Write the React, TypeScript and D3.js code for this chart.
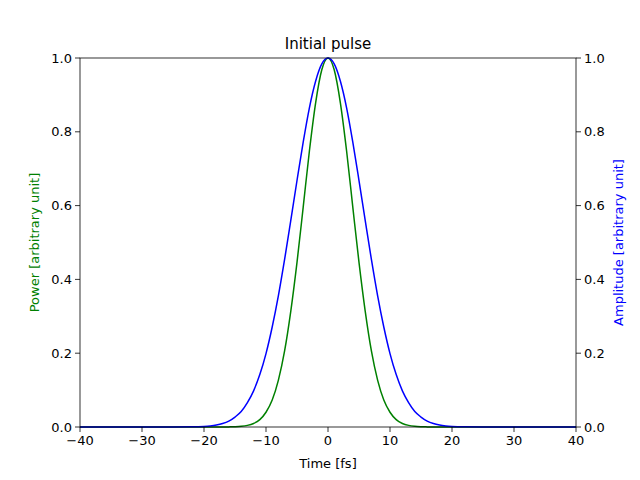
import React from 'react';
import * as d3 from 'd3';

// half-profiles, t = 0..20 fs (symmetric pulse), then tails
const halfTimes = [0, 1, 2, 3, 4, 5, 6, 7, 8, 9, 10, 11, 12, 13, 14, 15, 16, 17, 18, 19, 20, 22, 25, 30, 40];
const halfAmplitude = [1, 0.984, 0.937, 0.865, 0.772, 0.668, 0.56, 0.454, 0.356, 0.271, 0.199, 0.142, 0.098, 0.066, 0.042, 0.027, 0.016, 0.0094, 0.0054, 0.003, 0.0016, 0.0004, 0, 0, 0];
const halfPower = [1, 0.968, 0.878, 0.748, 0.596, 0.446, 0.314, 0.206, 0.127, 0.073, 0.04, 0.02, 0.0096, 0.0044, 0.0018, 0.0007, 0.0003, 0.0001, 0, 0, 0, 0, 0, 0, 0];

const xTicks = [-40, -30, -20, -10, 0, 10, 20, 30, 40];
const yTicks = [0, 0.2, 0.4, 0.6, 0.8, 1.0];

const mirror = (t: number[], v: number[]) => {
  const pts: [number, number][] = [];
  for (let i = t.length - 1; i > 0; i--) pts.push([-t[i], v[i]]);
  for (let i = 0; i < t.length; i++) pts.push([t[i], v[i]]);
  return pts;
};

const W = 640, H = 480;
const m = { left: 80, right: 576, top: 58, bottom: 427 };
const font = 'DejaVu Sans, sans-serif';

export default function App() {
  const x = d3.scaleLinear().domain([-40, 40]).range([m.left, m.right]);
  const y = d3.scaleLinear().domain([0, 1]).range([m.bottom, m.top]);
  const line = d3.line<[number, number]>().x(d => x(d[0])).y(d => y(d[1])).curve(d3.curveMonotoneX);

  return (
    <svg width={W} height={H} style={{ position: 'fixed', left: 0, top: 0, background: '#fff' }} fontFamily={font}>
      <path d={line(mirror(halfTimes, halfPower)) ?? ''} fill="none" stroke="green" strokeWidth={1.5} />
      <path d={line(mirror(halfTimes, halfAmplitude)) ?? ''} fill="none" stroke="blue" strokeWidth={1.5} />
      <rect x={m.left} y={m.top} width={m.right - m.left} height={m.bottom - m.top} fill="none" stroke="#000" strokeWidth={0.8} />
      {xTicks.map(t => (
        <g key={t}>
          <line x1={x(t)} x2={x(t)} y1={m.bottom} y2={m.bottom + 5} stroke="#000" strokeWidth={0.8} />
          <text x={x(t)} y={m.bottom + 18} fontSize={13} textAnchor="middle">{t < 0 ? '\u2212' + -t : t}</text>
        </g>
      ))}
      {yTicks.map(t => (
        <g key={t}>
          <line x1={m.left - 5} x2={m.left} y1={y(t)} y2={y(t)} stroke="#000" strokeWidth={0.8} />
          <text x={m.left - 8} y={y(t) + 4.5} fontSize={13} textAnchor="end">{t.toFixed(1)}</text>
          <line x1={m.right} x2={m.right + 5} y1={y(t)} y2={y(t)} stroke="#000" strokeWidth={0.8} />
          <text x={m.right + 8} y={y(t) + 4.5} fontSize={13} textAnchor="start">{t.toFixed(1)}</text>
        </g>
      ))}
      <text x={(m.left + m.right) / 2} y={468} fontSize={13} textAnchor="middle">Time [fs]</text>
      <text x={(m.left + m.right) / 2} y={49} fontSize={15} textAnchor="middle">Initial pulse</text>
      <text transform={`translate(39,${(m.top + m.bottom) / 2}) rotate(-90)`} fontSize={13} textAnchor="middle" fill="green">Power [arbitrary unit]</text>
      <text transform={`translate(623,${(m.top + m.bottom) / 2}) rotate(-90)`} fontSize={13} textAnchor="middle" fill="blue">Amplitude [arbitrary unit]</text>
    </svg>
  );
}
